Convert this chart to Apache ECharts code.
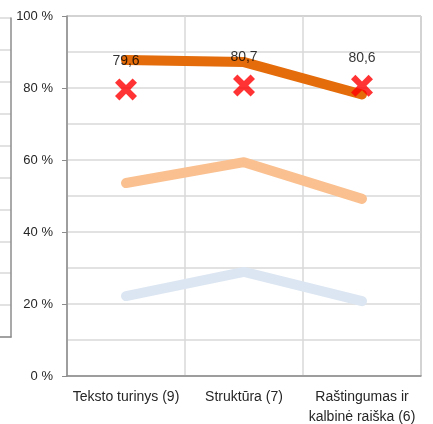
<!DOCTYPE html>
<html>
<head>
<meta charset="utf-8">
<script src="https://cdn.jsdelivr.net/npm/echarts@6/dist/echarts.min.js"></script>
<style>
html,body{margin:0;padding:0;background:#fff;}
#chart{width:433px;height:424px;}
</style>
</head>
<body>
<div id="chart"></div>
<script>
// data
var categories=["Teksto turinys (9)","Struktūra (7)","Raštingumas ir\nkalbinė raiška (6)"];
var highValues=[87.8,87.2,78.2];
var midValues=[53.6,59.4,49.2];
var lowValues=[22.2,28.9,20.8];
var markValues=[79.6,80.7,80.6];
var yMin=0,yMax=100,yStep=20;

(function(){
    var font="Liberation Sans";
    var textColor="#262626";
    var axisGray="#8c8c8c";
    var gridGray="#d9d9d9";
    //red cross marker
    var cross="path://M4,0 L10,6 L16,0 L20,4 L14,10 L20,16 L16,20 L10,14 L4,20 L0,16 L6,10 L0,4 Z";

    var option={
        animation:false,
        textStyle:{fontFamily:font},
        grid:[
            {left:67,right:12,top:16,bottom:48,outerBoundsMode:"none",show:true,borderColor:axisGray,borderWidth:1},
            //cut off neighbour chart on the left edge
            {left:0,right:422,top:18,bottom:87,outerBoundsMode:"none"}
        ],
        xAxis:[{
            type:"category",
            data:categories,
            boundaryGap:true,
            axisLine:{lineStyle:{color:axisGray,width:1.5}},
            axisTick:{length:5,lineStyle:{color:axisGray}},
            splitLine:{show:true,lineStyle:{color:gridGray,width:1.5}},
            axisLabel:{interval:0,color:textColor,fontSize:14,margin:11,lineHeight:20,fontFamily:font}
        },{
            type:"value",gridIndex:1,min:0,max:1,
            axisLine:{show:true,onZero:false,lineStyle:{color:axisGray,width:1.5}},
            axisTick:{show:false},axisLabel:{show:false},splitLine:{show:false}
        }],
        yAxis:[{
            type:"value",
            min:yMin,max:yMax,interval:yStep,
            axisLine:{show:true,lineStyle:{color:axisGray,width:1.5}},
            axisTick:{show:true,length:5,lineStyle:{color:axisGray}},
            splitLine:{show:true,lineStyle:{color:gridGray,width:1.5}},
            minorTick:{show:false,splitNumber:2},
            minorSplitLine:{show:true,lineStyle:{color:gridGray,width:1.5}},
            axisLabel:{color:textColor,fontSize:13,margin:14,fontFamily:font,
                formatter:function(v){return v+" %";}}
        },{
            type:"value",gridIndex:1,min:0,max:10,interval:1,position:"right",
            axisLine:{show:true,onZero:false,lineStyle:{color:axisGray,width:1.5}},
            axisTick:{show:false},axisLabel:{show:false},
            splitLine:{show:true,lineStyle:{color:gridGray,width:1.5}}
        }],
        series:[{
            type:"line",data:lowValues,showSymbol:false,z:2,
            lineStyle:{color:"#dce6f2",width:10,cap:"round",join:"round"}
        },{
            type:"line",data:midValues,showSymbol:false,z:3,
            lineStyle:{color:"#fac090",width:10,cap:"round",join:"round"}
        },{
            type:"line",data:highValues,showSymbol:false,z:4,
            lineStyle:{color:"#e46c0a",width:10,cap:"round",join:"round"}
        },{
            type:"scatter",data:markValues,z:5,
            symbol:cross,symbolSize:22,
            itemStyle:{color:"#ff0000"},
            label:{show:true,position:"top",distance:10,color:"#000",fontSize:14,fontFamily:font,
                formatter:function(p){return String(p.value).replace(".",",");}}
        }]
    };
    echarts.init(document.getElementById("chart")).setOption(option);
})();
</script>
</body>
</html>
